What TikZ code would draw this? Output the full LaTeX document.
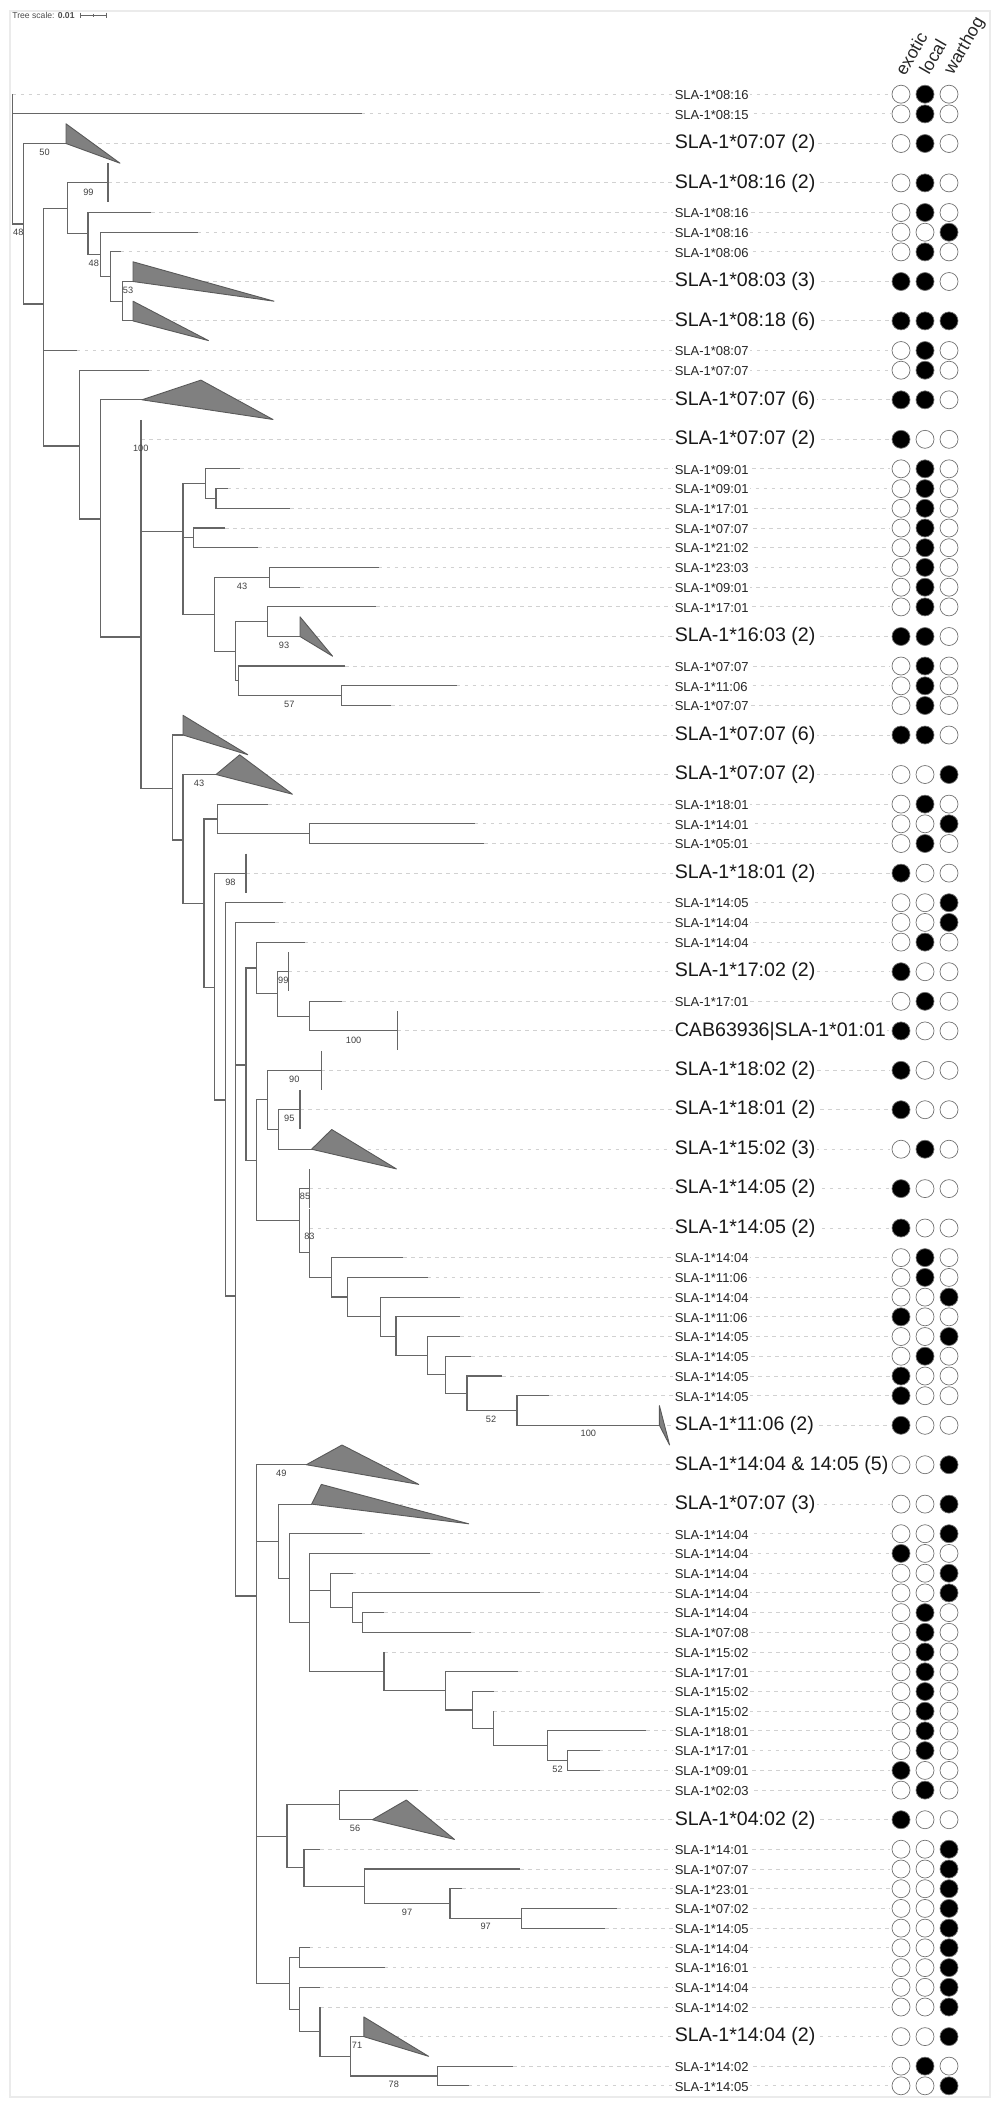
\documentclass[tikz,border=0pt]{standalone}
\usepackage{fontspec}
\setmainfont{Liberation Sans}
\usetikzlibrary{positioning}
\colorlet{on}{black}
\colorlet{off}{white}

\begin{document}
\begin{tikzpicture}[
  x=0.5pt, y=-0.5pt,
  frame/.style={draw=black!8, line width=1pt},
  branch/.style={draw=black!60, line width=0.55pt},
  leader/.style={draw=black!18, line width=0.45pt, dash pattern=on 1.8pt off 2.2pt},
  clade/.style={draw=black!65, fill=black!50, line width=0.45pt, line join=round},
  small/.style={anchor=mid west, fill=white, inner sep=0.7pt, text=black!85, font=\fontsize{6.5}{7}\selectfont},
  large/.style={anchor=mid west, fill=white, inner sep=0.7pt, text=black!90, font=\fontsize{9.8}{11}\selectfont},
  boot/.style={inner sep=0pt, text=black!75, font=\fontsize{4.6}{5}\selectfont},
  dot/.style={circle, draw=black!55, line width=0.35pt, minimum size=9pt, inner sep=0pt},
  head/.style={rotate=60, anchor=base west, inner sep=0pt, text=black!85, font=\fontsize{8.8}{9}\selectfont}
]
\useasboundingbox (0,0) rectangle (1000,2110);

% Frame and scale
\draw[frame] (10,11) rectangle (990,2097);
\node[anchor=west, inner sep=0pt, text=black!70, font=\fontsize{4.3}{5}\selectfont] (scale) at (12,15) {Tree scale: \textbf{0.01}};
\coordinate (s0) at (80,15);
\coordinate (s1) at (106,15);
\draw[black!60, line width=0.4pt] (s0) -- (s1) (s0) ++(0,-2.5) -- ++(0,5) (s1) ++(0,-2.5) -- ++(0,5) (93,13.5) -- (93,16.5);

% Headers
\node[head] (hexo) at (905,77) {exotic};
\node[head] (hloc) at (929,76) {local};
\node[head] (hwar) at (953,76) {warthog};

% Leaves: tip, leader, label, presence dots
\foreach \n/\tx/\yy/\st/\e/\l/\w/\txt in {
  1/12.5/94.2/small/off/on/off/{SLA-1*08:16},
  2/361.6/113.9/small/off/on/off/{SLA-1*08:15},
  3/66/143.5/large/off/on/off/{SLA-1*07:07 (2)},
  4/108/182.9/large/off/on/off/{SLA-1*08:16 (2)},
  5/150.9/212.5/small/off/on/off/{SLA-1*08:16},
  6/197.8/232.2/small/off/off/on/{SLA-1*08:16},
  7/120.5/251.9/small/off/on/off/{SLA-1*08:06},
  8/133/281.5/large/on/on/off/{SLA-1*08:03 (3)},
  9/133/320.9/large/on/on/on/{SLA-1*08:18 (6)},
  10/76.8/350.5/small/off/on/off/{SLA-1*08:07},
  11/148.7/370.2/small/off/on/off/{SLA-1*07:07},
  12/142/399.8/large/on/on/off/{SLA-1*07:07 (6)},
  13/141/439.3/large/on/off/off/{SLA-1*07:07 (2)},
  14/240.2/468.8/small/off/on/off/{SLA-1*09:01},
  15/227.7/488.6/small/off/on/off/{SLA-1*09:01},
  16/290.2/508.3/small/off/on/off/{SLA-1*17:01},
  17/225.4/528/small/off/on/off/{SLA-1*07:07},
  18/258/547.7/small/off/on/off/{SLA-1*21:02},
  19/378.6/567.4/small/off/on/off/{SLA-1*23:03},
  20/300.4/587.2/small/off/on/off/{SLA-1*09:01},
  21/376.3/606.9/small/off/on/off/{SLA-1*17:01},
  22/300/636.5/large/on/on/off/{SLA-1*16:03 (2)},
  23/345/666/small/off/on/off/{SLA-1*07:07},
  24/456.7/685.8/small/off/on/off/{SLA-1*11:06},
  25/391/705.5/small/off/on/off/{SLA-1*07:07},
  26/183/735/large/on/on/off/{SLA-1*07:07 (6)},
  27/216/774.5/large/off/off/on/{SLA-1*07:07 (2)},
  28/267.9/804.1/small/off/on/off/{SLA-1*18:01},
  29/474.6/823.8/small/off/off/on/{SLA-1*14:01},
  30/484/843.5/small/off/on/off/{SLA-1*05:01},
  31/246/873.1/large/on/off/off/{SLA-1*18:01 (2)},
  32/282.6/902.7/small/off/off/on/{SLA-1*14:05},
  33/275/922.4/small/off/off/on/{SLA-1*14:04},
  34/304.5/942.1/small/off/on/off/{SLA-1*14:04},
  35/288.8/971.7/large/on/off/off/{SLA-1*17:02 (2)},
  36/342/1001.3/small/off/on/off/{SLA-1*17:01},
  37/397.3/1030.9/large/on/off/off/{CAB63936|SLA-1*01:01},
  38/321.4/1070.3/large/on/off/off/{SLA-1*18:02 (2)},
  39/300/1109.7/large/on/off/off/{SLA-1*18:01 (2)},
  40/311.6/1149.2/large/off/on/off/{SLA-1*15:02 (3)},
  41/309.8/1188.6/large/on/off/off/{SLA-1*14:05 (2)},
  42/309.8/1228/large/on/off/off/{SLA-1*14:05 (2)},
  43/403.1/1257.6/small/off/on/off/{SLA-1*14:04},
  44/427.7/1277.4/small/off/on/off/{SLA-1*11:06},
  45/460.3/1297.1/small/off/off/on/{SLA-1*14:04},
  46/460.3/1316.8/small/on/off/off/{SLA-1*11:06},
  47/460.3/1336.5/small/off/off/on/{SLA-1*14:05},
  48/471/1356.2/small/off/on/off/{SLA-1*14:05},
  49/502.2/1376/small/on/off/off/{SLA-1*14:05},
  50/549/1395.7/small/on/off/off/{SLA-1*14:05},
  51/659.4/1425.3/large/on/off/off/{SLA-1*11:06 (2)},
  52/306.3/1464.7/large/off/off/on/{SLA-1*14:04 \& 14:05 (5)},
  53/311.6/1504.1/large/off/off/on/{SLA-1*07:07 (3)},
  54/361.6/1533.7/small/off/off/on/{SLA-1*14:04},
  55/429.5/1553.4/small/on/off/off/{SLA-1*14:04},
  56/352.7/1573.2/small/off/off/on/{SLA-1*14:04},
  57/540.2/1592.9/small/off/off/on/{SLA-1*14:04},
  58/384/1612.6/small/off/on/off/{SLA-1*14:04},
  59/471/1632.3/small/off/on/off/{SLA-1*07:08},
  60/384/1652/small/off/on/off/{SLA-1*15:02},
  61/517.9/1671.8/small/off/on/off/{SLA-1*17:01},
  62/494.2/1691.5/small/off/on/off/{SLA-1*15:02},
  63/493.3/1711.2/small/off/on/off/{SLA-1*15:02},
  64/646/1730.9/small/off/on/off/{SLA-1*18:01},
  65/599.6/1750.6/small/off/on/off/{SLA-1*17:01},
  66/600.4/1770.4/small/on/off/off/{SLA-1*09:01},
  67/418.3/1790.1/small/off/on/off/{SLA-1*02:03},
  68/372.3/1819.7/large/on/off/off/{SLA-1*04:02 (2)},
  69/320/1849.2/small/off/off/on/{SLA-1*14:01},
  70/520/1869/small/off/off/on/{SLA-1*07:07},
  71/462/1888.7/small/off/off/on/{SLA-1*23:01},
  72/617.4/1908.4/small/off/off/on/{SLA-1*07:02},
  73/605/1928.1/small/off/off/on/{SLA-1*14:05},
  74/309.8/1947.8/small/off/off/on/{SLA-1*14:04},
  75/384.8/1967.6/small/off/off/on/{SLA-1*16:01},
  76/320/1987.3/small/off/off/on/{SLA-1*14:04},
  77/320/2007/small/off/off/on/{SLA-1*14:02},
  78/363.8/2036.6/large/off/off/on/{SLA-1*14:04 (2)},
  79/513.4/2066.1/small/off/on/off/{SLA-1*14:02},
  80/468.8/2085.8/small/off/off/on/{SLA-1*14:05}}{
  \coordinate (t\n) at (\tx,\yy);
  \coordinate (e\n) at (890,\yy);
  \draw[leader] (t\n) -- (e\n);
  \node[\st] (l\n) at (673,\yy) {\txt};
  \node[dot, fill=\e] (ex\n) at (901,\yy) {};
  \node[dot, fill=\l] (lo\n) at (925,\yy) {};
  \node[dot, fill=\w] (wa\n) at (949,\yy) {};
}

% Internal nodes
\coordinate (root) at (12.5,94.2);
\coordinate (nA) at (23.2,224);
\coordinate (nB) at (43.8,304);
\coordinate (nC) at (67.9,208.2);
\coordinate (nC2) at (88,233.5);
\coordinate (nC3) at (100.9,254.4);
\coordinate (nC4) at (110.7,276.6);
\coordinate (nC5) at (122.3,301.2);
\coordinate (nD) at (79.5,446);
\coordinate (nE) at (100.9,519);
\coordinate (nF) at (141,637);
\coordinate (nG) at (183,531.7);
\coordinate (nG1) at (205.4,483.6);
\coordinate (nG1b) at (216,498.5);
\coordinate (nGm) at (193.3,537.9);
\coordinate (nG2) at (214.7,614.3);
\coordinate (nG3) at (269.2,577.3);
\coordinate (nG4) at (235.7,651.3);
\coordinate (nG5) at (267.9,621.7);
\coordinate (nG6) at (238.8,680.8);
\coordinate (nG7) at (341.5,695.6);
\coordinate (nH) at (172.3,788.3);
\coordinate (nI) at (183,840);
\coordinate (nJ) at (204,903.3);
\coordinate (nJ1) at (217.4,819);
\coordinate (nJ2) at (309.8,833.7);
\coordinate (nK) at (214.7,987.3);
\coordinate (nL) at (225.4,1100);
\coordinate (nM) at (235.7,1296);
\coordinate (nN) at (246,1065);
\coordinate (nN1) at (256.7,968);
\coordinate (nN2) at (277.7,993.9);
\coordinate (nN3) at (309.8,1016.1);
\coordinate (nN4) at (256.7,1160.3);
\coordinate (nN5) at (267.9,1099.9);
\coordinate (nN6) at (278.6,1129.5);
\coordinate (nQ) at (299.1,1220.6);
\coordinate (nQ2) at (309.8,1252.7);
\coordinate (nR) at (331.7,1277.3);
\coordinate (nR2) at (347.3,1297);
\coordinate (nR3) at (380.4,1316.7);
\coordinate (nR4) at (396,1336.2);
\coordinate (nR5) at (427.7,1355.6);
\coordinate (nR6) at (445.5,1374.7);
\coordinate (nR7) at (467,1393.3);
\coordinate (nR8) at (517,1410.5);
\coordinate (nP) at (256.7,1596);
\coordinate (nP1) at (278.6,1541.2);
\coordinate (nP4) at (289.3,1578.2);
\coordinate (nP5) at (309.8,1622.7);
\coordinate (nP6) at (330.8,1590.5);
\coordinate (nP8) at (352.7,1607.7);
\coordinate (nP9) at (362.5,1622.5);
\coordinate (nP7) at (384,1671.5);
\coordinate (nP10) at (445.5,1690.9);
\coordinate (nP11) at (472.3,1710);
\coordinate (nP12) at (493.3,1728.5);
\coordinate (nP13) at (547.8,1745.7);
\coordinate (nP14) at (567.9,1760.5);
\coordinate (nP2) at (287,1836.3);
\coordinate (nP15) at (339.3,1804.9);
\coordinate (nP16) at (304,1867.7);
\coordinate (nP17) at (364.3,1886.3);
\coordinate (nP18) at (450,1903.5);
\coordinate (nP19) at (521.4,1918.3);
\coordinate (nP3) at (289.3,1983.6);
\coordinate (nP20) at (299.1,1957.7);
\coordinate (nP21) at (299.1,2009.5);
\coordinate (nP22) at (320,2031.7);
\coordinate (nP23) at (350.4,2056.3);
\coordinate (nP24) at (437.5,2076);

% Branches
\draw[branch] (root) |- (t1) (root) |- (t2) (root) |- (nA);
\draw[branch] (nA) |- (t3) (nA) |- (nB);
\draw[branch] (nB) |- (nC) (nB) |- (t10) (nB) |- (nD);
\draw[branch] (nC) |- (t4) (nC) |- (nC2);
\draw[branch] (nC2) |- (t5) (nC2) |- (nC3);
\draw[branch] (nC3) |- (t6) (nC3) |- (nC4);
\draw[branch] (nC4) |- (t7) (nC4) |- (nC5);
\draw[branch] (nC5) |- (t8) (nC5) |- (t9);
\draw[branch] (nD) |- (t11) (nD) |- (nE);
\draw[branch] (nE) |- (t12) (nE) |- (nF);
\draw[branch] (nF) |- (t13) (nF) |- (nG) (nF) |- (nH);
\draw[branch] (nG) |- (nG1) (nG) |- (nGm) (nG) |- (nG2);
\draw[branch] (nG1) |- (t14) (nG1) |- (nG1b);
\draw[branch] (nG1b) |- (t15) (nG1b) |- (t16);
\draw[branch] (nGm) |- (t17) (nGm) |- (t18);
\draw[branch] (nG2) |- (nG3) (nG2) |- (nG4);
\draw[branch] (nG3) |- (t19) (nG3) |- (t20);
\draw[branch] (nG4) |- (nG5) (nG4) |- (nG6);
\draw[branch] (nG5) |- (t21) (nG5) |- (t22);
\draw[branch] (nG6) |- (t23) (nG6) |- (nG7);
\draw[branch] (nG7) |- (t24) (nG7) |- (t25);
\draw[branch] (nH) |- (t26) (nH) |- (nI);
\draw[branch] (nI) |- (t27) (nI) |- (nJ);
\draw[branch] (nJ) |- (nJ1) (nJ) |- (nK);
\draw[branch] (nJ1) |- (t28) (nJ1) |- (nJ2);
\draw[branch] (nJ2) |- (t29) (nJ2) |- (t30);
\draw[branch] (nK) |- (t31) (nK) |- (nL);
\draw[branch] (nL) |- (t32) (nL) |- (nM);
\draw[branch] (nM) |- (t33) (nM) |- (nN) (nM) |- (nP);
\draw[branch] (nN) |- (nN1) (nN) |- (nN4);
\draw[branch] (nN1) |- (t34) (nN1) |- (nN2);
\draw[branch] (nN2) |- (t35) (nN2) |- (nN3);
\draw[branch] (nN3) |- (t36) (nN3) |- (t37);
\draw[branch] (nN4) |- (nN5) (nN4) |- (nQ);
\draw[branch] (nN5) |- (t38) (nN5) |- (nN6);
\draw[branch] (nN6) |- (t39) (nN6) |- (t40);
\draw[branch] (nQ) |- (t41) (nQ) |- (nQ2);
\draw[branch] (nQ2) |- (t42) (nQ2) |- (nR);
\draw[branch] (nR) |- (t43) (nR) |- (nR2);
\draw[branch] (nR2) |- (t44) (nR2) |- (nR3);
\draw[branch] (nR3) |- (t45) (nR3) |- (nR4);
\draw[branch] (nR4) |- (t46) (nR4) |- (nR5);
\draw[branch] (nR5) |- (t47) (nR5) |- (nR6);
\draw[branch] (nR6) |- (t48) (nR6) |- (nR7);
\draw[branch] (nR7) |- (t49) (nR7) |- (nR8);
\draw[branch] (nR8) |- (t50) (nR8) |- (t51);
\draw[branch] (nP) |- (t52) (nP) |- (nP1) (nP) |- (nP2) (nP) |- (nP3);
\draw[branch] (nP1) |- (t53) (nP1) |- (nP4);
\draw[branch] (nP4) |- (t54) (nP4) |- (nP5);
\draw[branch] (nP5) |- (t55) (nP5) |- (nP6) (nP5) |- (nP7);
\draw[branch] (nP6) |- (t56) (nP6) |- (nP8);
\draw[branch] (nP8) |- (t57) (nP8) |- (nP9);
\draw[branch] (nP9) |- (t58) (nP9) |- (t59);
\draw[branch] (nP7) |- (t60) (nP7) |- (nP10);
\draw[branch] (nP10) |- (t61) (nP10) |- (nP11);
\draw[branch] (nP11) |- (t62) (nP11) |- (nP12);
\draw[branch] (nP12) |- (t63) (nP12) |- (nP13);
\draw[branch] (nP13) |- (t64) (nP13) |- (nP14);
\draw[branch] (nP14) |- (t65) (nP14) |- (t66);
\draw[branch] (nP2) |- (nP15) (nP2) |- (nP16);
\draw[branch] (nP15) |- (t67) (nP15) |- (t68);
\draw[branch] (nP16) |- (t69) (nP16) |- (nP17);
\draw[branch] (nP17) |- (t70) (nP17) |- (nP18);
\draw[branch] (nP18) |- (t71) (nP18) |- (nP19);
\draw[branch] (nP19) |- (t72) (nP19) |- (t73);
\draw[branch] (nP3) |- (nP20) (nP3) |- (nP21);
\draw[branch] (nP20) |- (t74) (nP20) |- (t75);
\draw[branch] (nP21) |- (t76) (nP21) |- (nP22);
\draw[branch] (nP22) |- (t77) (nP22) |- (nP23);
\draw[branch] (nP23) |- (t78) (nP23) |- (nP24);
\draw[branch] (nP24) |- (t79) (nP24) |- (t80);

% Collapsed clades
\draw[clade] (t3) -- (66,123.8) -- (120,163.2) -- cycle;
\draw[clade] (t8) -- (133,261.8) -- (274,301.2) -- cycle;
\draw[clade] (t9) -- (133,301.2) -- (208.5,340.6) -- cycle;
\draw[clade] (t12) -- (200.9,380.1) -- (273,419.5) -- cycle;
\draw[clade] (t22) -- (300,616.8) -- (332.6,656.2) -- cycle;
\draw[clade] (t26) -- (183,715.3) -- (247.8,754.7) -- cycle;
\draw[clade] (t27) -- (239.7,754.8) -- (292.4,794.2) -- cycle;
\draw[clade] (t40) -- (331.7,1129.5) -- (396.4,1168.9) -- cycle;
\draw[clade] (t51) -- (659.4,1405.6) -- (669.6,1445) -- cycle;
\draw[clade] (t52) -- (342,1445) -- (418.8,1484.4) -- cycle;
\draw[clade] (t53) -- (321.4,1484.4) -- (468.8,1523.8) -- cycle;
\draw[clade] (t68) -- (406.3,1800) -- (454.5,1839.4) -- cycle;
\draw[clade] (t78) -- (363.8,2016.9) -- (428.6,2056.3) -- cycle;
\foreach \b in {4,13,31,35,37,38,39,41,42}
  \draw[branch] (t\b) +(0,-19.5) -- +(0,19.5);

% Support values
\node[boot] (b1) at (18.3,232) {48};
\node[boot] (b2) at (44.6,152.7) {50};
\node[boot] (b3) at (88.4,192) {99};
\node[boot] (b4) at (93.8,263.3) {48};
\node[boot] (b5) at (128,290.7) {53};
\node[boot] (b6) at (140.7,448.3) {100};
\node[boot] (b7) at (242,586.7) {43};
\node[boot] (b8) at (284,645.3) {93};
\node[boot] (b9) at (289.3,704.3) {57};
\node[boot] (b10) at (199,783.3) {43};
\node[boot] (b11) at (230.4,882) {98};
\node[boot] (b12) at (283.3,980.5) {99};
\node[boot] (b13) at (353.6,1040) {100};
\node[boot] (b14) at (294.3,1079) {90};
\node[boot] (b15) at (289.3,1118.3) {95};
\node[boot] (b16) at (305,1196.7) {85};
\node[boot] (b17) at (309.4,1236.7) {83};
\node[boot] (b18) at (491,1419.3) {52};
\node[boot] (b19) at (588.4,1433.3) {100};
\node[boot] (b20) at (281.3,1473.3) {49};
\node[boot] (b21) at (557.6,1769) {52};
\node[boot] (b22) at (355,1828.3) {56};
\node[boot] (b23) at (407,1912) {97};
\node[boot] (b24) at (485.7,1926.7) {97};
\node[boot] (b25) at (357,2045) {71};
\node[boot] (b26) at (393.8,2084.3) {78};

\end{tikzpicture}
\end{document}
